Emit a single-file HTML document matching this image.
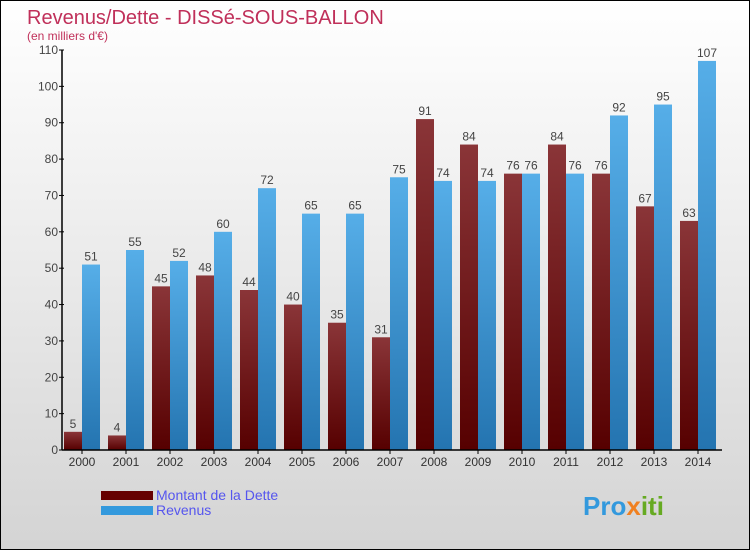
<!DOCTYPE html>
<html><head><meta charset="utf-8"><style>
body{margin:0}
#c{position:relative;width:748px;height:548px;border:1px solid #000;background:linear-gradient(#fff,#d4d4d4);font-family:"Liberation Sans",sans-serif;overflow:hidden}
</style></head><body>
<div id="c">
<svg id="s" width="748" height="548" xmlns="http://www.w3.org/2000/svg">
<defs>
<linearGradient id="gd" x1="0" y1="0" x2="0" y2="1"><stop offset="0" stop-color="#8a3538"/><stop offset="1" stop-color="#560000"/></linearGradient>
<linearGradient id="gr" x1="0" y1="0" x2="0" y2="1"><stop offset="0" stop-color="#56aee8"/><stop offset="1" stop-color="#2474b0"/></linearGradient>
</defs>
<text x="26" y="23" font-size="20" fill="#c0305a">Revenus/Dette - DISSé-SOUS-BALLON</text>
<text x="26" y="39" font-size="12" fill="#c0305a">(en milliers d'€)</text>
<g id="bars"></g>
<g id="axes"></g>
<rect x="100" y="490" width="52" height="9" fill="#660000"/>
<rect x="100" y="505" width="52" height="9" fill="#3399dd"/>
<text x="155" y="499" font-size="14" fill="#5555ee">Montant de la Dette</text>
<text x="155" y="514" font-size="14" fill="#5555ee">Revenus</text>
<text x="582" y="514" font-size="26" font-weight="bold" fill="#3399dd">Pro<tspan fill="#f08020">x</tspan><tspan fill="#66aa22">iti</tspan></text>
</svg>
</div>
<script>
const years=["2000","2001","2002","2003","2004","2005","2006","2007","2008","2009","2010","2011","2012","2013","2014"];
const dette=[5,4,45,48,44,40,35,31,91,84,76,84,76,67,63];
const revenus=[51,55,52,60,72,65,65,75,74,74,76,76,92,95,107];
const yTicks=[0,10,20,30,40,50,60,70,80,90,100,110];
const NS="http://www.w3.org/2000/svg";
const x0=61,gw=44,base=449,yMax=110,ph=400;
const y=v=>base-v/yMax*ph;
const gx=i=>x0+i*gw;
const bars=document.getElementById('bars'),axes=document.getElementById('axes');
function mk(t,a,p){const e=document.createElementNS(NS,t);for(const k in a)e.setAttribute(k,a[k]);p.appendChild(e);return e;}
years.forEach((yr,i)=>{
  const b1=mk('rect',{x:gx(i)+2,y:y(dette[i]),width:18,height:base-y(dette[i]),fill:'url(#gd)'},bars);
  
  
  const b2=mk('rect',{x:gx(i)+20,y:y(revenus[i]),width:18,height:base-y(revenus[i]),fill:'url(#gr)'},bars);
  
  
  const t1=mk('text',{x:gx(i)+11,y:y(dette[i])-4,'font-size':12,fill:'#444','text-anchor':'middle'},bars);
  t1.textContent=dette[i];
  
  
  const t2=mk('text',{x:gx(i)+29,y:y(revenus[i])-4,'font-size':12,fill:'#444','text-anchor':'middle'},bars);
  t2.textContent=revenus[i];
  
  
  const xl=mk('text',{x:gx(i)+20,y:base+16,'font-size':12,fill:'#333','text-anchor':'middle'},axes);
  xl.textContent=yr;
  
  
  const tk=mk('line',{x1:gx(i)+20,x2:gx(i)+20,y1:base,y2:base+4,stroke:'#000'},axes);
  
  
});
yTicks.forEach(v=>{
  const l=mk('line',{x1:x0-3,x2:x0+2,y1:y(v),y2:y(v),stroke:'#000'},axes);
  
  
  const t=mk('text',{x:x0-4,y:y(v)+4,'font-size':12,fill:'#444','text-anchor':'end'},axes);
  t.textContent=v;
  
  
});
const ya=mk('line',{x1:x0,x2:x0,y1:y(yMax),y2:base,stroke:'#000','stroke-width':1.5},axes);


const xa=mk('line',{x1:x0,x2:x0+years.length*gw,y1:base,y2:base,stroke:'#000','stroke-width':1.5},axes);


</script>
</body></html>
